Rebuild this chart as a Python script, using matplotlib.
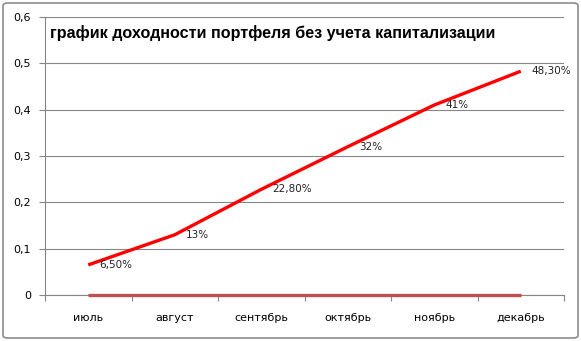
import matplotlib.pyplot as plt
from matplotlib.patches import FancyBboxPatch

# месяцы и доходность портфеля
months = ['июль', 'август', 'сентябрь', 'октябрь', 'ноябрь', 'декабрь']
returns = [0.065, 0.13, 0.228, 0.32, 0.41, 0.483]
labels = ['6,50%', '13%', '22,80%', '32%', '41%', '48,30%']
base = [0, 0, 0, 0, 0, 0]
yticks = [0, 0.1, 0.2, 0.3, 0.4, 0.5, 0.6]

W, H = 581, 341
fig = plt.figure(figsize=(W / 100, H / 100), dpi=100)

# рамка диаграммы
frame = FancyBboxPatch((3 / W, 3 / H), (W - 6) / W, (H - 6) / H,
                       boxstyle='round,pad=0,rounding_size=0.008',
                       transform=fig.transFigure, fill=False,
                       edgecolor='#8c8c8c', linewidth=1.2)
fig.patches.append(frame)

ax = fig.add_axes([45 / W, (H - 295) / H, (564 - 45) / W, (295 - 17) / H])
x = list(range(len(months)))

ax.plot(x, base, color='#c0504d', linewidth=2.4, solid_capstyle='butt',
        zorder=3, clip_on=False)
ax.plot(x, returns, color='#ff0000', linewidth=2.4, solid_capstyle='butt', zorder=4)

for xi, v, t in zip(x, returns, labels):
    ax.annotate(t, (xi, v), xytext=(8, 0), textcoords='offset points',
                ha='left', va='center', fontsize=7.5, color='#222222', zorder=5)

ax.set_xlim(-0.5, len(months) - 0.5)
ax.set_ylim(0, 0.6)
ax.set_yticks(yticks)
ax.set_yticklabels([f'{t:.1f}'.replace('.', ',') if t else '0' for t in yticks])
ax.set_xticks([i - 0.5 for i in range(len(months) + 1)], minor=False)
ax.set_xticklabels([])
ax.set_xticks(x, minor=True)
ax.set_xticklabels(months, minor=True)
ax.tick_params(axis='x', which='minor', length=0, pad=13, labelsize=8)
ax.tick_params(axis='x', which='major', length=4, color='#868686')
ax.tick_params(axis='y', length=4, color='#868686', labelsize=8, pad=6)

ax.grid(axis='y', color='#868686', linewidth=0.8)
ax.set_axisbelow(True)
for s in ['top', 'right']:
    ax.spines[s].set_visible(False)
for s in ['left', 'bottom']:
    ax.spines[s].set_color('#868686')
    ax.spines[s].set_linewidth(0.8)

fig.text(50 / W, 1 - 33 / H, 'график доходности портфеля без учета капитализации',
         fontsize=11.6, fontweight='bold', family='Liberation Sans',
         va='center', ha='left')

fig.savefig('out.png', dpi=100)
